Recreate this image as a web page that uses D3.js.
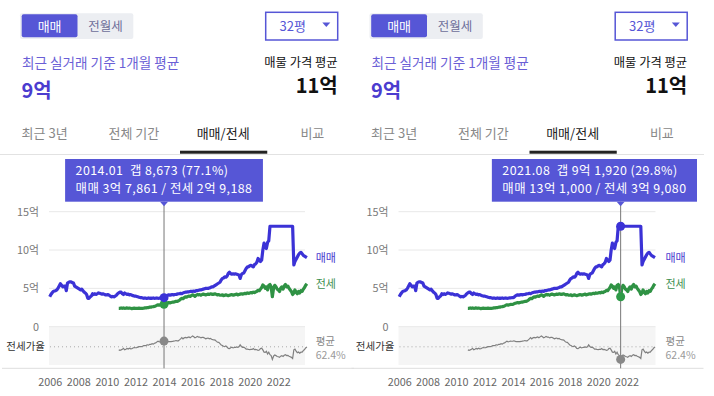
<!DOCTYPE html>
<html>
<head>
<meta charset="utf-8">
<script src="https://cdn.jsdelivr.net/npm/d3@7"></script>
<style>
  body { margin: 0; background: #fff; }
  svg text { font-family: "Noto Sans CJK KR", "Noto Sans", sans-serif; }
</style>
</head>
<body>
<div id="container"></div>
<script>
// 매매 monthly average, 억 (2006.01 ~ 2024.01)
const saleStart = '2006-01';
const saleValues = [
  3.9, 4.2, 4.4, 4.6, 4.65, 4.7, 4.8, 5.0, 5.3, 5.6, 5.4, 5.2,
  5.3, 5.3, 4.7, 5.7, 5.8, 5.85, 5.85, 5.75, 5.7, 5.3, 5.2, 5.1,
  5.0, 4.9, 4.8, 4.9, 4.7, 4.5, 4.4, 4.2, 3.7, 3.7, 3.9, 4.0,
  4.3, 4.2, 4.3, 4.2, 4.3, 4.4, 4.35, 4.3, 4.25, 4.3, 4.2, 4.15,
  4.15, 4.2, 4.1, 4.0, 3.9, 3.95, 3.9, 4.0, 4.1, 4.3, 4.4, 4.5,
  4.5, 4.3, 4.2, 4.4, 4.3, 4.2, 4.25, 4.15, 4.2, 4.1, 4.05, 4.0,
  4.0, 3.95, 3.9, 3.85, 3.8, 3.8, 3.75, 3.7, 3.75, 3.7, 3.7, 3.75,
  3.7, 3.72, 3.7, 3.75, 3.7, 3.72, 3.75, 3.7, 3.72, 3.75, 3.76, 3.78,
  3.7861, 3.85, 4.0, 4.1, 4.15, 4.1, 4.15, 4.2, 4.15, 4.2, 4.2, 4.25,
  4.3, 4.3, 4.35, 4.3, 4.4, 4.45, 4.5, 4.5, 4.55, 4.55, 4.6, 4.6,
  4.6, 4.65, 4.6, 4.7, 4.7, 4.75, 4.8, 4.8, 4.85, 4.9, 4.95, 5.0,
  5.0, 5.0, 5.05, 5.1, 5.2, 5.2, 5.3, 5.4, 5.5, 5.6, 5.7, 5.8,
  6.1, 6.3, 6.35, 6.5, 6.45, 6.6, 6.95, 7.1, 6.9, 6.85, 6.9, 6.85,
  6.9, 6.85, 6.8, 6.75, 6.3, 6.8, 6.95, 7.0, 7.3, 7.6, 7.8, 7.8,
  7.95, 8.0, 7.9, 7.8, 8.1, 8.2, 8.4, 8.9, 8.7, 8.5, 8.7, 10.0,
  10.9, 10.4, 10.2, 11.0, 11.2, 13.1, 13.1, 13.1, 13.1, 13.1, 13.1, 13.1,
  13.1, 13.1, 13.1, 13.1, 13.1, 13.1, 13.1, 13.1, 13.1, 13.1, 13.1, 13.1,
  13.1, 8.05, 8.5, 8.8, 9.1, 9.4, 9.6, 9.7, 9.5, 9.3, 9.2, 9.1,
  9.0
];

// 전세 monthly average, 억 (2010.11 ~ 2024.01)
const jeonseStart = '2010-11';
const jeonseValues = [
  2.4, 2.4,
  2.45, 2.4, 2.45, 2.4, 2.42, 2.45, 2.4, 2.43, 2.4, 2.35, 2.4, 2.42,
  2.4, 2.38, 2.4, 2.42, 2.4, 2.38, 2.4, 2.42, 2.45, 2.45, 2.5, 2.5,
  2.55, 2.55, 2.6, 2.6, 2.65, 2.7, 2.8, 2.85, 2.8, 2.85, 2.9, 2.9,
  2.9188, 3.0, 3.05, 3.1, 3.15, 3.1, 3.15, 3.2, 3.2, 3.25, 3.3, 3.3,
  3.35, 3.45, 3.6, 3.7, 3.65, 3.8, 3.9, 3.85, 3.95, 4.0, 3.95, 4.05,
  4.15, 4.1, 3.95, 4.1, 4.2, 4.15, 4.2, 4.1, 4.2, 4.25, 4.2, 4.15,
  4.2, 4.25, 4.2, 4.3, 4.25, 4.2, 4.25, 4.3, 4.2, 4.15, 4.2, 4.1,
  4.1, 4.15, 4.05, 4.1, 4.15, 4.1, 4.05, 4.1, 4.15, 4.2, 4.1, 4.15,
  4.2, 4.25, 4.15, 4.2, 4.25, 4.3, 4.25, 4.3, 4.35, 4.3, 4.4, 4.35,
  4.4, 4.45, 4.4, 4.5, 4.45, 4.55, 4.6, 4.75, 4.7, 4.9, 5.1, 5.45,
  5.3, 5.0, 5.2, 4.8, 5.4, 5.5, 5.2, 3.908, 5.0, 5.4, 5.2, 4.9,
  4.8, 4.6, 5.0, 5.2, 4.9, 5.3, 5.5, 5.2, 5.3, 5.0, 4.8, 4.6,
  4.2, 4.4, 4.8, 4.5, 4.3, 4.6, 4.4, 4.7, 4.6, 4.9, 5.1, 5.4,
  5.6
];

const yearTicks = [2006, 2008, 2010, 2012, 2014, 2016, 2018, 2020, 2022];
const priceTicks = [0, 5, 10, 15];
const avgRatio = 62.4;
const hoverMonths = ['2014-01', '2021-08'];
const dealTypes = ['매매', '전월세'];
const tabs = ['최근 3년', '전체 기간', '매매/전세', '비교'];
const activeTab = '매매/전세';
const areaLabel = '32평';
const recentAvg = 9;   // 억
const listingAvg = 11; // 억

// Colours.
const accent = '#5656d6';
const saleColor = '#3b32d6';
const jeonseColor = '#2f9244';
const ratioColor = '#808080';

// Series.
const parseMonth = d3.timeParse('%Y-%m');
const sale = saleValues.map((v, i) => ({ date: d3.timeMonth.offset(parseMonth(saleStart), i), v }));
const jeonse = jeonseValues.map((v, i) => ({ date: d3.timeMonth.offset(parseMonth(jeonseStart), i), v }));
const saleByMonth = new Map(sale.map(d => [+d.date, d.v]));
const jeonseByMonth = new Map(jeonse.map(d => [+d.date, d.v]));
const ratio = jeonse.map(d => ({ date: d.date, v: d.v / saleByMonth.get(+d.date) * 100 }));

// Money text, 억 -> "3억 7,861".
function money(v) {
  const man = Math.round(v * 10000);
  const eok = Math.floor(man / 10000), rest = man % 10000;
  return [eok ? eok + '억' : '', rest ? d3.format(',')(rest) : ''].filter(s => s).join(' ');
}

const width = 714, height = 396;
const svg = d3.select('#container').append('svg')
  .attr('width', width).attr('height', height);

const panelShift = 349.5;

hoverMonths.forEach((m, i) => drawPanel(svg.append('g').attr('transform', `translate(${i * panelShift},0)`), m, i));

function drawPanel(g, hoverMonth, idx) {
  // Header: deal type toggle.
  g.append('rect').attr('x', 20).attr('y', 13.3).attr('width', 113.3).attr('height', 25.7)
    .attr('rx', 2).attr('fill', '#eceef2');
  const seg = d3.scaleBand().domain(dealTypes).range([21.7, 133.3]);
  g.append('rect').attr('x', seg(dealTypes[0])).attr('y', 14.3)
    .attr('width', seg.bandwidth()).attr('height', 23).attr('rx', 2).attr('fill', accent);
  g.selectAll('.seg').data(dealTypes).enter().append('text')
    .attr('class', 'seg')
    .attr('x', d => seg(d) + seg.bandwidth() / 2).attr('y', 30.5)
    .attr('text-anchor', 'middle')
    .attr('font-size', (d, i) => i === 0 ? 13 : 12.5)
    .attr('fill', (d, i) => i === 0 ? '#fff' : '#6e6e9a')
    .text(d => d);

  // Area dropdown.
  g.append('rect').attr('x', 265.7).attr('y', 12.3).attr('width', 72).attr('height', 27.7)
    .attr('fill', '#fff').attr('stroke', accent).attr('stroke-width', 1.5);
  g.append('text').attr('x', 292.7).attr('y', 31).attr('text-anchor', 'middle')
    .attr('font-size', 13).attr('fill', accent).text(areaLabel);
  g.append('path').attr('d', 'M322.3,22.5 L330.3,22.5 L326.3,27 Z').attr('fill', accent);

  // Summary numbers.
  g.append('text').attr('x', 22).attr('y', 67.5).attr('font-size', 13.6).attr('fill', '#6b5fd6')
    .text('최근 실거래 기준 1개월 평균');
  g.append('text').attr('x', 21.5).attr('y', 97.5).attr('font-size', 20).attr('font-weight', 'bold')
    .attr('fill', '#4b3ccf').text(recentAvg + '억');
  g.append('text').attr('x', 337.7).attr('y', 67).attr('text-anchor', 'end')
    .attr('font-size', 12.3).attr('fill', '#111').text('매물 가격 평균');
  g.append('text').attr('x', 337.7).attr('y', 93).attr('text-anchor', 'end').attr('font-size', 20)
    .attr('font-weight', 'bold').attr('fill', '#111').text(listingAvg + '억');

  // Tabs.
  const tab = d3.scaleBand().domain(tabs).range([0, 357]);
  g.selectAll('.tab').data(tabs).enter().append('text')
    .attr('class', 'tab')
    .attr('x', d => tab(d) + tab.bandwidth() / 2).attr('y', 137.5)
    .attr('text-anchor', 'middle').attr('font-size', 13)
    .attr('fill', d => d === activeTab ? '#222' : '#888')
    .text(d => d);
  g.append('line').attr('x1', idx ? 2.5 : 0).attr('x2', 354.5).attr('y1', 154.5).attr('y2', 154.5)
    .attr('stroke', '#e2e2e2');
  g.append('rect').attr('x', tab(activeTab) + 1.5).attr('y', 150.7)
    .attr('width', tab.bandwidth() - 2).attr('height', 3).attr('fill', '#222');

  // Scales.
  const x = d3.scaleTime()
    .domain([new Date(2006, 0, 1), new Date(2024, 0, 1)])
    .range([49.7, idx ? 305.5 : 306.9]);
  const y = d3.scaleLinear().domain([0, 15]).range([326.7, 211.7]);
  const yr = d3.scaleLinear().domain([15.4, 114.3]).range([365, 326.7]);
  const plotL = 49, plotR = idx ? 306 : 305;

  // Ratio band.
  g.append('rect').attr('x', plotL).attr('y', y(0)).attr('width', plotR - plotL)
    .attr('height', yr.range()[0] - y(0)).attr('fill', '#f5f5f5');

  // Grid.
  g.append('g').selectAll('line').data(priceTicks).enter().append('line')
    .attr('x1', plotL).attr('x2', plotR)
    .attr('y1', d => y(d)).attr('y2', d => y(d))
    .attr('stroke', '#e8e8e8');

  // Y axis.
  const yAxis = g.append('g').attr('transform', `translate(${plotL},0)`)
    .call(d3.axisLeft(y).tickValues(priceTicks).tickSize(0).tickPadding(10)
      .tickFormat(d => d ? d + '억' : '0'));
  yAxis.select('.domain').remove();
  yAxis.selectAll('text').attr('font-size', 10.8).attr('fill', '#777')
    .attr('font-family', '"Noto Sans CJK KR", sans-serif');

  // X axis.
  g.append('line').attr('x1', 2).attr('x2', 354).attr('y1', 368.3).attr('y2', 368.3)
    .attr('stroke', '#dedede');
  const xAxis = g.append('g').attr('transform', 'translate(0,368.3)')
    .call(d3.axisBottom(x).tickValues(yearTicks.map(yy => new Date(yy, 0, 1)))
      .tickSize(0).tickPadding(10).tickFormat(d3.timeFormat('%Y')));
  xAxis.select('.domain').remove();
  xAxis.selectAll('text').attr('font-size', 10.8).attr('fill', '#666')
    .attr('font-family', '"Noto Sans CJK KR", sans-serif');

  // Average ratio.
  g.append('line').attr('x1', plotL + 1).attr('x2', plotR)
    .attr('y1', yr(avgRatio)).attr('y2', yr(avgRatio))
    .attr('stroke', '#aaa').attr('stroke-dasharray', '1,3');
  g.append('text').attr('x', 45).attr('y', yr(avgRatio)).attr('dy', '0.35em')
    .attr('text-anchor', 'end').attr('font-size', 10.5).attr('fill', '#333').text('전세가율');

  // Lines.
  const line = d3.line().x(d => x(d.date)).y(d => y(d.v));
  const ratioLine = d3.line().x(d => x(d.date)).y(d => yr(d.v));
  g.append('path').datum(ratio).attr('d', ratioLine)
    .attr('fill', 'none').attr('stroke', ratioColor).attr('stroke-width', 1.2);
  g.append('path').datum(jeonse).attr('d', line)
    .attr('fill', 'none').attr('stroke', jeonseColor).attr('stroke-width', 3.2)
    .attr('stroke-linejoin', 'round');
  g.append('path').datum(sale).attr('d', line)
    .attr('fill', 'none').attr('stroke', saleColor).attr('stroke-width', 3.2)
    .attr('stroke-linejoin', 'round');

  // End labels.
  const lx = idx ? 316 : 315.7;
  g.append('text').attr('x', lx).attr('y', y(sale[sale.length - 1].v)).attr('dy', '0.35em')
    .attr('font-size', 11).attr('fill', '#4b3ccf').text('매매');
  g.append('text').attr('x', lx).attr('y', y(jeonse[jeonse.length - 1].v)).attr('dy', '0.35em')
    .attr('font-size', 11).attr('fill', '#3d8f50').text('전세');
  g.append('text').attr('x', lx).attr('y', yr(avgRatio) - 5.5).attr('dy', '0.35em')
    .attr('font-size', 10.5).attr('fill', '#888').text('평균');
  g.append('text').attr('x', lx).attr('y', yr(avgRatio) + 8.2).attr('dy', '0.35em')
    .attr('font-size', 10.5).attr('fill', '#999')
    .attr('font-family', '"Liberation Sans", Arial, sans-serif')
    .text(avgRatio + '%');

  // Hover.
  const hd = parseMonth(hoverMonth);
  const sv = saleByMonth.get(+hd), jv = jeonseByMonth.get(+hd);
  const rv = jv / sv * 100;
  const hx = x(hd);
  const boxTop = 159, boxBottom = 201.7;

  g.append('line').attr('x1', hx).attr('x2', hx).attr('y1', boxBottom).attr('y2', 368.3)
    .attr('stroke', '#777').attr('stroke-width', 1);
  g.append('circle').attr('cx', hx).attr('cy', yr(rv)).attr('r', 4.5).attr('fill', '#888');
  g.append('circle').attr('cx', hx).attr('cy', y(jv)).attr('r', 4.5).attr('fill', '#2f9a48');
  g.append('circle').attr('cx', hx).attr('cy', y(sv)).attr('r', 4.5).attr('fill', saleColor);

  // Tooltip.
  const tip = g.append('g');
  const box = tip.append('rect').attr('y', boxTop).attr('height', boxBottom - boxTop).attr('fill', accent);
  const lines = [
    `${d3.timeFormat('%Y.%m')(hd)}  갭 ${money(sv - jv)} (${rv.toFixed(1)}%)`,
    `매매 ${money(sv)} / 전세 ${money(jv)}`
  ];
  const tt = tip.selectAll('text').data(lines).enter().append('text')
    .attr('y', (d, i) => 175.3 + i * 18.1)
    .attr('font-size', 12.4).attr('letter-spacing', 0.45).attr('fill', '#fff')
    .style('white-space', 'pre')
    .text(d => d);
  const tw = d3.max(tt.nodes(), n => n.getComputedTextLength());
  const bw = tw + 21;
  const bx = Math.max(3, Math.min(hx - bw / 2, 347.5 - bw));
  box.attr('x', bx).attr('width', bw);
  tt.attr('x', bx + 10.5);
  tip.append('path')
    .attr('d', `M${hx - 4},${boxBottom} L${hx + 4},${boxBottom} L${hx},${boxBottom + 4.5} Z`)
    .attr('fill', accent);
}
</script>
</body>
</html>
